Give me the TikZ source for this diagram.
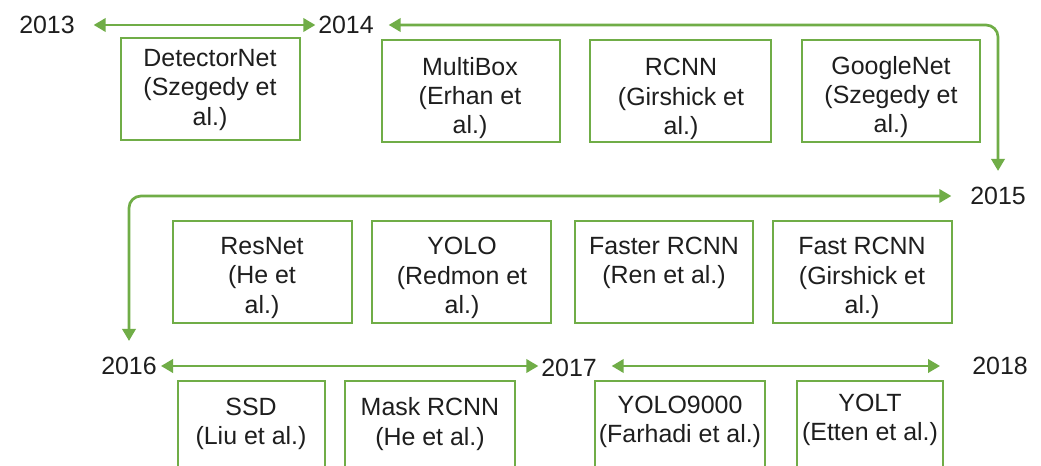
\documentclass[tikz,border=0pt]{standalone}
\usepackage{fontspec}
\setmainfont{Liberation Sans}
\usetikzlibrary{arrows.meta}
\definecolor{gr}{RGB}{112,173,71}
\definecolor{tx}{RGB}{30,30,30}
\tikzset{
  box/.style={draw=gr, line width=2pt, inner sep=0pt},
  lbl/.style={align=center, inner sep=0pt, text=tx, font=\fontsize{18.7}{22}\selectfont},
  yr/.style={inner sep=0pt, text=tx, font=\fontsize{18.7}{22}\selectfont},
  arr/.style={draw=gr, line width=2pt, {Triangle[length=9pt,width=10pt]}-{Triangle[length=9pt,width=10pt]}}
}
\newcommand\bx[8]{%
  \node[box, minimum width={(#4-#2)*0.75pt}, minimum height={(#5-#3)*0.75pt}] (#1) at ({(#2+#4)/2},{(#3+#5)/2}) {};
  \node[lbl] (#1t) at (#6,#7) {#8};}
\begin{document}
\begin{tikzpicture}[x=0.75pt,y=-0.75pt]
\clip (0,0) rectangle (1041,466);
\fill[white] (0,0) rectangle (1041,466);
% years
\node[yr] (y2013) at (47,25) {2013};
\node[yr] (y2014) at (346,25) {2014};
\node[yr] (y2015) at (998,196) {2015};
\node[yr] (y2016) at (129,366) {2016};
\node[yr] (y2017) at (569,368) {2017};
\node[yr] (y2018) at (1000,366) {2018};
% boxes
\bx{dn}{121}{38}{300}{140}{210}{90}{DetectorNet\\(Szegedy et\\al.)}
\bx{mb}{382}{40}{560}{142}{470}{98}{MultiBox\\(Erhan et\\al.)}
\bx{rc}{590}{40}{771}{142}{681}{99}{RCNN\\(Girshick et\\al.)}
\bx{gn}{802}{40}{980}{142}{891}{97}{GoogleNet\\(Szegedy et\\al.)}
\bx{rn}{173}{221}{352}{323}{262}{278}{ResNet\\(He et\\al.)}
\bx{yo}{372}{221}{551}{323}{462}{278}{YOLO\\(Redmon et\\al.)}
\bx{fr}{575}{221}{753}{323}{664}{263}{Faster RCNN\\(Ren et al.)}
\bx{fa}{773}{221}{952}{323}{862}{278}{Fast RCNN\\(Girshick et\\al.)}
\bx{ss}{178}{381}{325}{480}{251}{424}{SSD\\(Liu et al.)}
\bx{mr}{345}{381}{515}{480}{430}{424}{Mask RCNN\\(He et al.)}
\bx{y9}{595}{381}{765}{480}{680}{422}{YOLO9000\\(Farhadi et al.)}
\bx{yt}{797}{381}{943}{480}{870}{420}{YOLT\\(Etten et al.)}
% arrows
\draw[arr] ([xshift=14pt]y2013.east) -- ([xshift=-2pt]y2014.west);
\draw[arr, rounded corners=9pt] ([xshift=11pt]y2014.east) -| ([yshift=12pt]y2015.north);
\draw[arr, rounded corners=9pt] ([xshift=-14pt]y2015.west) -| ([yshift=12pt]y2016.north);
\draw[arr] ([xshift=3pt]y2016.east) -- ([xshift=-2pt]y2017.west |- y2016.east);
\draw[arr] ([xshift=11pt]y2017.east |- y2018.west) -- ([xshift=-24pt]y2018.west);
\end{tikzpicture}
\end{document}
